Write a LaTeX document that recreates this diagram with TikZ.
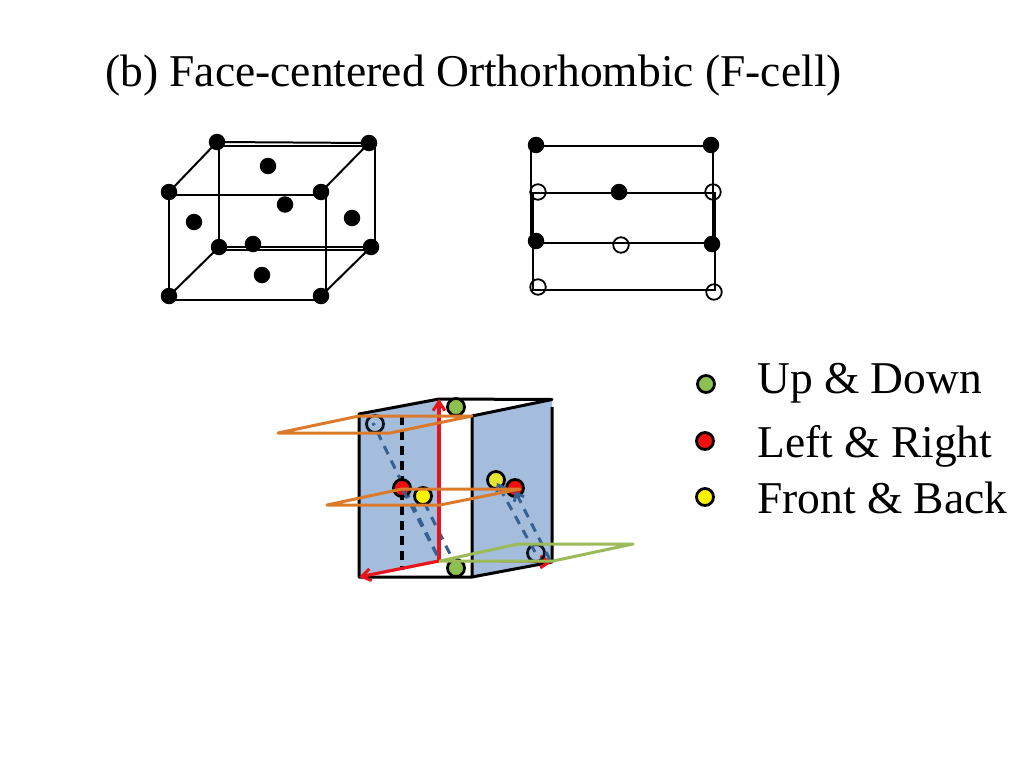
\documentclass[tikz,border=0pt]{standalone}
\usepackage{fontspec}
\setmainfont{Liberation Serif}
\usetikzlibrary{arrows.meta}
\definecolor{paneblue}{HTML}{A5BDDC}
\definecolor{planeorange}{HTML}{DB7A2A}
\definecolor{planegreen}{HTML}{9BBB59}
\definecolor{dashblue}{HTML}{376092}
\definecolor{ballgreen}{HTML}{8CC152}
\definecolor{ballred}{HTML}{F01010}
\definecolor{ballyellow}{HTML}{FFF200}
\definecolor{ballyellowb}{HTML}{E6E632}
\definecolor{arrowred}{HTML}{E8141C}
\tikzset{
  x=1pt,y=-1pt,
  soliddot/.style={circle,fill=black,inner sep=0pt,minimum size=16.5pt},
  hollowdot/.style={circle,draw=black,line width=1.8pt,fill=none,inner sep=0pt,minimum size=15.5pt},
  ball/.style={circle,draw=black,line width=2.8pt,inner sep=0pt,minimum size=17pt},
  ringdot/.style={circle,draw=black!80!dashblue,line width=2.8pt,fill=none,inner sep=0pt,minimum size=17pt},
  thinline/.style={draw=black,line width=2pt},
  edgeline/.style={draw=black,line width=3pt,line join=round},
  planeline/.style={line width=3pt,line join=round},
  axisline/.style={draw=arrowred,line width=3.2pt,-{Straight Barb[length=9pt,width=12pt,line width=3pt]}},
  blueline/.style={draw=dashblue,line width=3pt,dash pattern=on 9pt off 7pt},
  label/.style={anchor=base west,inner sep=0pt,font=\fontsize{45.5}{50}\selectfont}
}
\begin{document}
\begin{tikzpicture}
\useasboundingbox (0,0) rectangle (1024,768);
\node[label] (title) at (105,86) {(b) Face-centered Orthorhombic (F-cell)};

% perspective cube
\coordinate (fa) at (169,195); \coordinate (fb) at (326,195);
\coordinate (fc) at (326,299.5); \coordinate (fd) at (169,299.5);
\coordinate (ba) at (219,146); \coordinate (bb) at (375,146);
\coordinate (bc) at (375,250); \coordinate (bd) at (219,250);
\draw[thinline] (fa)--(fb)--(fc)--(fd)--cycle;
\draw[thinline] (ba)--(bb)--(bc)--(bd)--cycle;
\node[soliddot] (c1) at (217,142) {};
\node[soliddot] (c2) at (369,143) {};
\node[soliddot] (c3) at (169,192) {};
\node[soliddot] (c4) at (321,192) {};
\node[soliddot] (c5) at (219,247) {};
\node[soliddot] (c6) at (371,247) {};
\node[soliddot] (c7) at (169,296) {};
\node[soliddot] (c8) at (321,296) {};
\draw[thinline] (c1.center)--(c2.center);
\draw[thinline] (c5.center)--(c6.center);
\draw[thinline] (c3.center)--(c1.center);
\draw[thinline] (c4.center)--(c2.center);
\draw[thinline] (c7.center)--(c5.center);
\draw[thinline] (c8.center)--(c6.center);
\node[soliddot] at (268,166) {};
\node[soliddot] at (285,204.5) {};
\node[soliddot] at (194,222) {};
\node[soliddot] at (352,218) {};
\node[soliddot] at (253,244) {};
\node[soliddot] at (262,275) {};

% projection
\coordinate (p1) at (531,145.5); \coordinate (p2) at (713,145.5);
\coordinate (p3) at (531,243); \coordinate (p4) at (713,243);
\coordinate (p5) at (532.5,192.5); \coordinate (p6) at (715,192.5);
\coordinate (p7) at (532.5,289.5); \coordinate (p8) at (715,289.5);
\draw[thinline] (p3)--(p1)--(p2)--(p4)--cycle;
\draw[thinline] (p5)--(p6)--(p8)--(p7)--cycle;
\node[soliddot] at (536,145) {};
\node[soliddot] at (711,145) {};
\node[soliddot] at (619,192) {};
\node[soliddot] at (536,241) {};
\node[soliddot] at (712,244) {};
\node[hollowdot] at (538,192) {};
\node[hollowdot] at (713,192) {};
\node[hollowdot] at (621,245) {};
\node[hollowdot] at (538,287) {};
\node[hollowdot] at (714,292) {};

% exploded cell
\coordinate (la) at (359,414); \coordinate (lb) at (439,399);
\coordinate (lc) at (439,561); \coordinate (ld) at (359,577);
\coordinate (ra) at (472,416); \coordinate (rb) at (552,399.5);
\coordinate (rc) at (552,562); \coordinate (rd) at (472,577);
\coordinate (rbt) at (552,407);
\fill[paneblue] (la)--(lb)--(lc)--(ld)--cycle;
\fill[paneblue] (ra)--(rb)--(rc)--(rd)--cycle;
\draw[edgeline,line cap=round] (ld)--(la)--(lb)--(rb)--(ra)--(rd)--(ld);
\draw[edgeline] (rbt)--(rc)--(rd);
\coordinate (da) at (402,416); \coordinate (db) at (402,570);
\draw[draw=black,line width=3.4pt,dash pattern=on 9pt off 6pt] (da)--(db);

\coordinate (a1s) at (437,555); \coordinate (a2s) at (457,568);
\coordinate (a1e) at (373,423); \coordinate (a2e) at (423,500);
\draw[blueline] (a1s)--(a1e);
\draw[blueline] (a2s)--(a2e);
\coordinate (b1s) at (535,552); \coordinate (b1e) at (497,483);
\coordinate (b2s) at (550,560); \coordinate (b2e) at (515,491);

\draw[axisline] (lc)--(lb);
\draw[axisline] (lc)--(ld);
\draw[axisline,line width=1.4pt] (lc)--(rc);

\node[ball,fill=ballgreen] (gt) at (456,407) {};
\node[ball,fill=ballgreen] (gb) at (456,568) {};
\node[ball,fill=ballred] (rl) at (402,488) {};
\node[ball,fill=ballyellow] (yl) at (423,496) {};
\node[ball,fill=ballyellowb] (yr) at (496,480) {};
\node[ball,fill=ballred] (rr) at (515,488) {};
\node[ringdot] (ot) at (375,424) {};
\node[ringdot] (ob) at (536,553) {};

\draw[blueline] (a1s)--(rl.center);
\draw[blueline,-{Straight Barb[length=7pt,width=11pt,line width=2.8pt]}] (b1s)--(b1e);
\draw[blueline,-{Straight Barb[length=7pt,width=11pt,line width=2.8pt]}] (b2s)--(b2e);

\coordinate (o1) at (278,433); \coordinate (o2) at (390,433);
\coordinate (o3) at (472,416); \coordinate (o4) at (359,416);
\draw[planeline,draw=planeorange] (o1)--(o2)--(o3)--(o4)--cycle;
\coordinate (m1) at (327,505); \coordinate (m2) at (440,505);
\coordinate (m3) at (520,489); \coordinate (m4) at (402,489);
\draw[planeline,draw=planeorange] (m1)--(m2)--(m3)--(m4)--cycle;
\coordinate (g1) at (440,561); \coordinate (g2) at (518,544);
\coordinate (g3) at (633,544); \coordinate (g4) at (553,561);
\draw[planeline,draw=planegreen] (g1)--(g2)--(g3)--(g4)--cycle;

% legend
\node[ball,fill=ballgreen] (lg) at (706,384) {};
\node[ball,fill=ballred] (lr) at (705,441) {};
\node[ball,fill=ballyellow] (ly) at (705,497) {};
\node[label] (tg) at (757,393) {Up \& Down};
\node[label] (tr) at (757,457) {Left \& Right};
\node[label] (ty) at (757,513) {Front \& Back};
\end{tikzpicture}
\end{document}
